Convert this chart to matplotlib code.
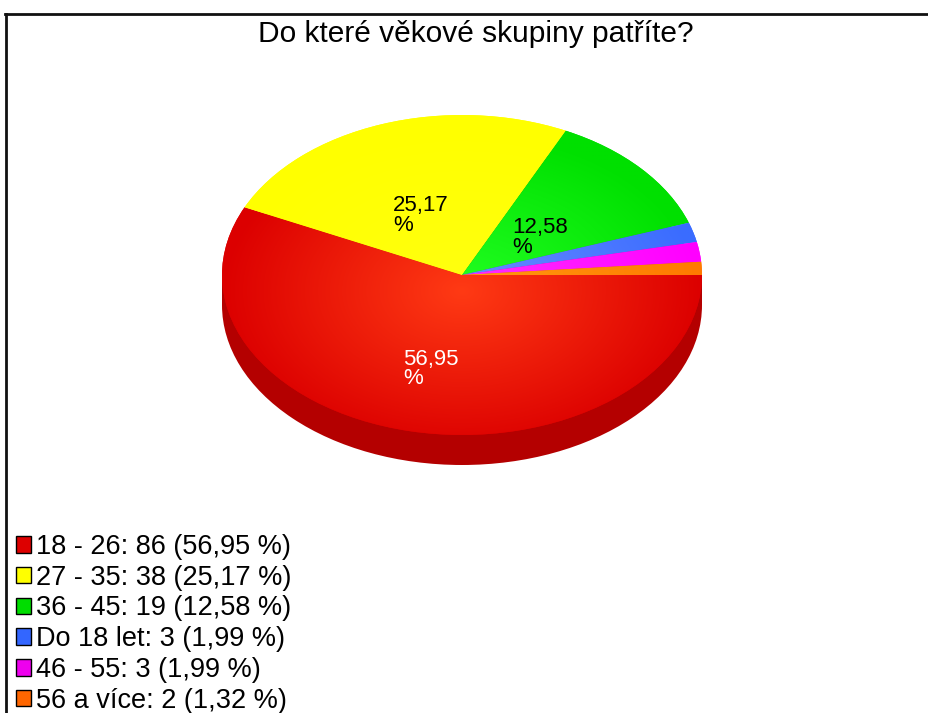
import numpy as np
import matplotlib
matplotlib.use("Agg")
import matplotlib.pyplot as plt
from matplotlib.patches import Patch, Ellipse, Rectangle
from matplotlib.lines import Line2D
from matplotlib.colors import to_rgb

plt.rcParams['font.family'] = ['Liberation Sans', 'DejaVu Sans']

title = "Do které věkové skupiny patříte?"
categories = ["18 - 26", "27 - 35", "36 - 45", "Do 18 let", "46 - 55", "56 a více"]
counts = [86, 38, 19, 3, 3, 2]
percents = ["56,95", "25,17", "12,58", "1,99", "1,99", "1,32"]

edge_cols = ["#dc0000", "#ffff00", "#00e000", "#3a6cff", "#ff00ff", "#ff7a00"]
center_cols = ["#ff3a14", "#ffff10", "#22ff22", "#6a8cff", "#ff30ff", "#ff9a10"]
legend_cols = ["#dd0000", "#ffff00", "#00dd00", "#3366ff", "#ee00ee", "#ff6600"]
label_cols = ["white", "black", "black"]
label_r = [0.6, 0.41, 0.40]
label_da = [0, 5, -6]

W, H = 929, 713
fig = plt.figure(figsize=(W / 100, H / 100), dpi=100)

cx, cy, rx, ry, depth = 462, 275, 240, 160, 30
d = depth / ry
ax = fig.add_axes([(cx - rx) / W, 1 - (cy + ry + depth) / H, 2 * rx / W, (2 * ry + depth) / H])
ax.axis('off')

# 3D side
side = "#b40000"
ax.add_patch(Ellipse((0, -d), 2, 2, facecolor=side, edgecolor='none', zorder=1))
ax.add_patch(Rectangle((-1, -d), 2, d, facecolor=side, edgecolor='none', zorder=1))

wedges, _ = ax.pie(counts, colors=edge_cols, startangle=0, counterclock=False,
                   radius=1, wedgeprops=dict(linewidth=0, zorder=2))
ax.set_aspect('auto')

# radial gradient on each wedge
n = 400
xs = np.linspace(-1, 1, n)
ys = np.linspace(-1, 1, n)
X, Y = np.meshgrid(xs, ys)
R = np.clip(np.sqrt(X ** 2 + (Y + 0.1) ** 2), 0, 1)[..., None]
for w, ce, cc in zip(wedges, edge_cols, center_cols):
    c0 = np.array(to_rgb(cc))
    c1 = np.array(to_rgb(ce))
    img = c0 * (1 - R) + c1 * R
    im = ax.imshow(img, extent=[-1, 1, -1, 1], origin='lower', zorder=3,
                   interpolation='bilinear', aspect='auto')
    im.set_clip_path(w)

# percentage labels
total = sum(counts)
start = 0.0
for i, c in enumerate(counts):
    span = 360.0 * c / total
    mid = start - span / 2
    start -= span
    if i < len(label_r):
        r = label_r[i]
        a = np.deg2rad(mid + label_da[i])
        ax.text(r * np.cos(a), r * np.sin(a), percents[i] + "\n%",
                ha='center', va='center', multialignment='left',
                color=label_cols[i], fontsize=16, linespacing=0.9, zorder=5)

ax.set_xlim(-1, 1)
ax.set_ylim(-1 - d, 1)

fig.text(476 / W, 1 - 34 / H, title, ha='center', va='center', fontsize=21.5)

handles = [Patch(facecolor=c, edgecolor='black', linewidth=1) for c in legend_cols]
labels = [f"{cat}: {cnt} ({p} %)" for cat, cnt, p in zip(categories, counts, percents)]
fig.legend(handles, labels, loc='upper left', bbox_to_anchor=(16 / W, 1 - 534 / H),
           frameon=False, fontsize=19.5, handlelength=0.55, handleheight=0.55,
           handletextpad=0.2, labelspacing=0.175, borderaxespad=0, borderpad=0)

# frame
fig.add_artist(Line2D([5 / W, 1], [1 - 14 / H, 1 - 14 / H], transform=fig.transFigure,
                      color='#111111', lw=2))
fig.add_artist(Line2D([6 / W, 6 / W], [0, 1 - 14 / H], transform=fig.transFigure,
                      color='#111111', lw=2))

fig.savefig("out.png", dpi=100)
